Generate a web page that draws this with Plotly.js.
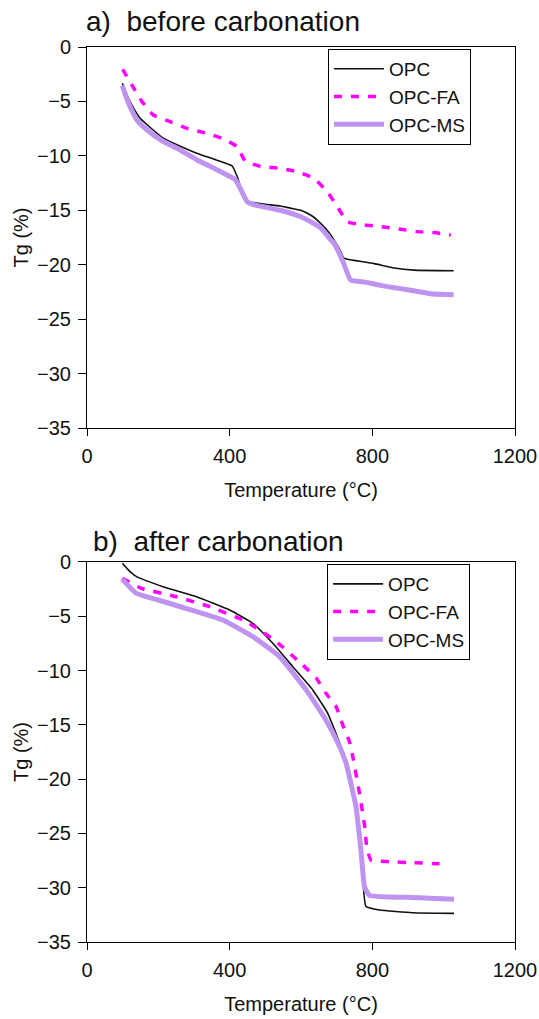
<!DOCTYPE html>
<html>
<head>
<meta charset="utf-8">
<script src="https://cdn.plot.ly/plotly-3.0.1.min.js"></script>
<style>html,body{margin:0;padding:0;background:#fff;}#chart{width:539px;height:1019px;}</style>
</head>
<body>
<div id="chart"></div>
<script>
// ---- data: a) before carbonation ----
var a_opc_T = [99,116,125,149,215,308,360,407,421,440,453,480,500,542,570,599,630,655,680,692,710,720,730,805,861,917,1028];
var a_opc_v = [-3.34,-4.7,-5.3,-6.55,-8.4,-9.77,-10.35,-10.93,-11.9,-13.75,-14.2,-14.35,-14.45,-14.6,-14.8,-15.0,-15.5,-16.2,-17.1,-17.7,-18.7,-19.4,-19.5,-19.9,-20.3,-20.5,-20.55];
var a_fa_T = [100,126,154,186,233,280,336,383,421,444,491,542,589,636,674,702,730,777,823,880,927,973,1020];
var a_fa_v = [-2.05,-3.5,-5.0,-6.25,-6.86,-7.47,-7.93,-8.45,-9.16,-10.5,-11.0,-11.15,-11.45,-12.07,-13.3,-14.67,-16.05,-16.35,-16.5,-16.75,-16.96,-17.05,-17.27];
var a_ms_T = [99,110,121,140,168,210,261,310,360,407,416,430,449,470,542,600,655,683,692,705,720,739,780,823,870,917,973,1028];
var a_ms_v = [-3.55,-4.6,-5.5,-6.7,-7.6,-8.6,-9.46,-10.4,-11.2,-12.0,-12.2,-13.0,-14.2,-14.5,-15.0,-15.6,-16.6,-17.7,-18.0,-18.8,-19.9,-21.4,-21.6,-21.9,-22.15,-22.4,-22.7,-22.75];
// ---- data: b) after carbonation ----
var b_opc_T = [99,115,139,213,307,400,465,521,577,633,675,712,736,754,768,782,820,913,1029];
var b_opc_v = [-0.12,-0.7,-1.35,-2.27,-3.2,-4.42,-5.65,-7.49,-9.64,-11.79,-13.94,-17.0,-19.5,-22.5,-25.6,-31.7,-32.05,-32.3,-32.36];
var b_fa_T = [99,153,251,344,437,484,531,605,643,670,698,717,736,745,764,773,780,784,796,848,913,1001];
var b_fa_v = [-1.5,-2.43,-3.2,-4.12,-5.34,-6.26,-7.34,-9.49,-10.7,-12.1,-13.3,-15.0,-16.55,-17.9,-21.3,-23.1,-24.7,-26.2,-27.45,-27.6,-27.7,-27.8];
var b_ms_T = [99,139,200,260,381,465,540,615,670,708,726,754,768,778,792,913,1029];
var b_ms_v = [-1.6,-2.9,-3.5,-4.1,-5.34,-6.88,-8.72,-11.8,-14.55,-17.0,-18.5,-22.5,-26.5,-29.9,-30.7,-30.9,-31.07];

var seriesNames = ['OPC','OPC-FA','OPC-MS'];
var xTicks = [0,400,800,1200];
var yTicks = [0,-5,-10,-15,-20,-25,-30,-35];

var FONT = 'Liberation Sans, Arial, Helvetica, sans-serif';
var cBlack = '#111111', cMag = '#ff00ff', cPur = '#bf94f0';

function tr(x, y, name, xa, ya, lg, line) {
  return {x: x, y: y, name: name, xaxis: xa, yaxis: ya, legend: lg, type: 'scatter', mode: 'lines', line: line};
}
var lOPC = {color: cBlack, width: 1.6, shape: 'spline', smoothing: 0.4};
var lFA = {color: cMag, width: 3.5, dash: '8px,9px', shape: 'spline', smoothing: 0.4};
var lMS = {color: cPur, width: 5, shape: 'spline', smoothing: 0.4};

var data = [
  tr(a_opc_T, a_opc_v, seriesNames[0], 'x', 'y', 'legend', lOPC),
  tr(a_fa_T, a_fa_v, seriesNames[1], 'x', 'y', 'legend', lFA),
  tr(a_ms_T, a_ms_v, seriesNames[2], 'x', 'y', 'legend', lMS),
  tr(b_opc_T, b_opc_v, seriesNames[0], 'x2', 'y2', 'legend2', lOPC),
  tr(b_fa_T, b_fa_v, seriesNames[1], 'x2', 'y2', 'legend2', lFA),
  tr(b_ms_T, b_ms_v, seriesNames[2], 'x2', 'y2', 'legend2', lMS)
];

function xax(anchor) {
  return {anchor: anchor, domain: [0,1], range: [0,1200], tickmode: 'array', tickvals: xTicks,
    ticks: 'outside', ticklen: 7, tickcolor: '#000', showline: true, mirror: true, linecolor: '#000', linewidth: 1,
    showgrid: false, zeroline: false, tickfont: {size: 20, color: '#111'}, ticklabelstandoff: 3,
    title: {text: 'Temperature (°C)', font: {size: 20, color: '#111'}, standoff: 16}};
}
function yax(anchor, dom) {
  return {anchor: anchor, domain: dom, range: [-35,0], tickmode: 'array', tickvals: yTicks,
    ticks: 'outside', ticklen: 8, tickcolor: '#000', showline: true, mirror: true, linecolor: '#000', linewidth: 1,
    showgrid: false, zeroline: false, tickfont: {size: 20, color: '#111'}, ticklabelstandoff: 3,
    title: {text: 'Tg (%)', font: {size: 20, color: '#111'}, standoff: 3}};
}
var legBase = {bordercolor: '#000', borderwidth: 1, bgcolor: '#fff', font: {size: 19, color: '#111', family: FONT},
  xanchor: 'left', yanchor: 'top', itemwidth: 50, tracegroupgap: 0};

var layout = {
  width: 539, height: 1019,
  margin: {l: 87, r: 24, t: 47, b: 77},
  paper_bgcolor: '#fff', plot_bgcolor: '#fff',
  font: {family: FONT, color: '#111'},
  showlegend: true,
  xaxis: xax('y'),
  yaxis: yax('x', [0.5743, 1]),
  xaxis2: xax('y2'),
  yaxis2: yax('x2', [0, 0.4246]),
  legend: Object.assign({}, legBase, {x: 0.563, y: 0.9978}),
  legend2: Object.assign({}, legBase, {x: 0.561, y: 0.4223}),
  annotations: [
    {text: 'a)  before carbonation', xref: 'paper', yref: 'paper', x: -0.007, y: 1.028, xanchor: 'left', yanchor: 'middle', showarrow: false, font: {size: 28, color: '#111'}},
    {text: 'b)  after carbonation', xref: 'paper', yref: 'paper', x: 0.010, y: 0.447, xanchor: 'left', yanchor: 'middle', showarrow: false, font: {size: 28, color: '#111'}}
  ]
};

Plotly.newPlot('chart', data, layout, {staticPlot: true, displayModeBar: false});
</script>
</body>
</html>
